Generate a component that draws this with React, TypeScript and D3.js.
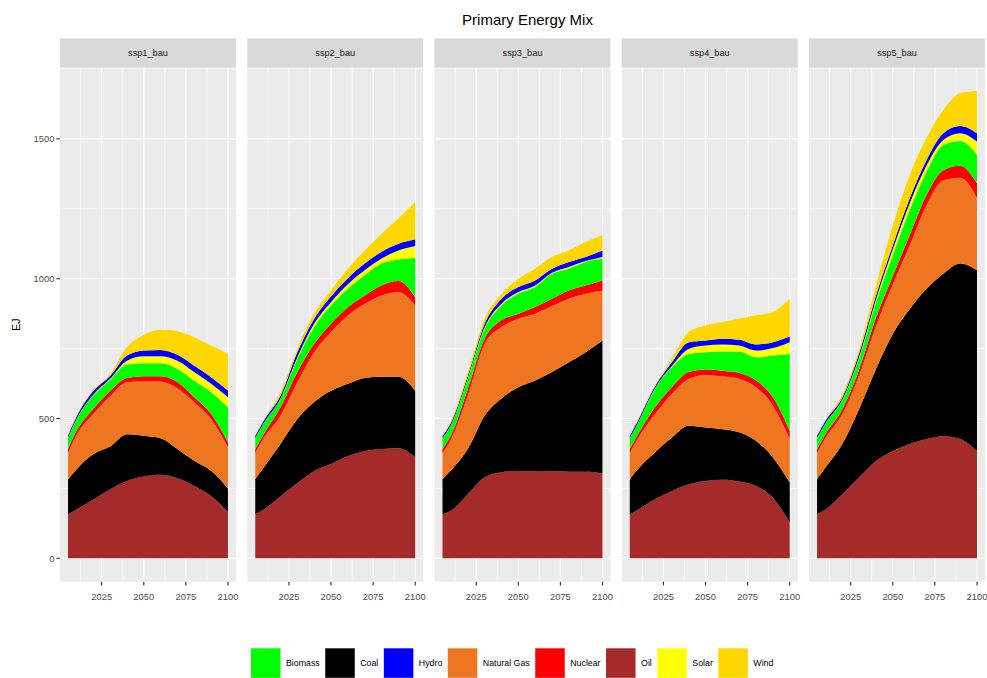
import { useEffect, useRef } from 'react';
import * as d3 from 'd3';

const years = [2005, 2010, 2020, 2030, 2040, 2050, 2060, 2070, 2080, 2090, 2100];
const scenarios = ['ssp1_bau', 'ssp2_bau', 'ssp3_bau', 'ssp4_bau', 'ssp5_bau'];
// bottom to top, as stacked in the panels
const stackOrder = ['Oil', 'Coal', 'Natural Gas', 'Nuclear', 'Biomass', 'Solar', 'Hydro', 'Wind'];
const legendOrder = ['Biomass', 'Coal', 'Hydro', 'Natural Gas', 'Nuclear', 'Oil', 'Solar', 'Wind'];
const fuelColors: Record<string, string> = {
  Biomass: '#00FF00',
  Coal: '#000000',
  Hydro: '#0000FF',
  'Natural Gas': '#EE7621',
  Nuclear: '#FF0000',
  Oil: '#A52A2A',
  Solar: '#FFFF00',
  Wind: '#FFD700',
};

// EJ, one row per scenario (ssp1..ssp5), one value per year
const oil = [
  [158, 175, 210, 247, 277, 293, 299, 286, 259, 223, 166],
  [158, 175, 222, 269, 312, 337, 366, 384, 391, 394, 362],
  [158, 170, 229, 290, 308, 312, 312, 312, 310, 310, 305],
  [158, 175, 211, 241, 265, 277, 281, 275, 259, 217, 128],
  [158, 175, 229, 290, 348, 384, 409, 427, 437, 427, 384],
];
const coal = [
  [125, 143, 163, 153, 167, 145, 130, 105, 90, 90, 84],
  [125, 150, 187, 229, 247, 262, 258, 261, 258, 255, 237],
  [125, 145, 162, 220, 264, 300, 324, 354, 391, 427, 474],
  [125, 145, 168, 191, 209, 191, 181, 176, 161, 144, 143],
  [125, 150, 180, 244, 329, 419, 483, 537, 581, 627, 646],
];
const gas = [
  [93, 122, 143, 180, 186, 195, 203, 217, 209, 185, 147],
  [93, 105, 101, 132, 178, 210, 244, 265, 291, 303, 305],
  [93, 110, 191, 257, 255, 245, 239, 236, 227, 209, 179],
  [93, 110, 137, 156, 168, 188, 189, 191, 192, 185, 156],
  [93, 105, 107, 121, 153, 177, 227, 299, 334, 307, 259],
];
const nuclear = [
  [15, 15, 18, 18, 15, 18, 19, 22, 18, 18, 18],
  [15, 14, 30, 36, 30, 30, 30, 30, 36, 40, 30],
  [15, 15, 24, 18, 24, 18, 24, 26, 30, 30, 36],
  [15, 15, 24, 24, 24, 19, 20, 21, 24, 30, 29],
  [15, 14, 16, 20, 30, 30, 36, 36, 36, 43, 52],
];
const biomass = [
  [38, 40, 48, 40, 48, 47, 47, 47, 59, 78, 125],
  [38, 38, 30, 47, 60, 65, 66, 72, 78, 77, 140],
  [38, 36, 36, 36, 53, 71, 71, 90, 78, 84, 78],
  [38, 40, 66, 71, 65, 62, 69, 77, 83, 149, 275],
  [38, 38, 33, 40, 55, 75, 90, 83, 90, 88, 101],
];
const solar = [
  [1, 2, 3, 4, 14, 25, 25, 30, 31, 30, 36],
  [1, 1, 2, 6, 12, 12, 16, 18, 18, 32, 43],
  [1, 1, 3, 5, 6, 6, 6, 3, 6, 3, 6],
  [1, 1, 2, 5, 18, 24, 25, 21, 24, 27, 42],
  [1, 1, 2, 5, 10, 20, 24, 22, 18, 28, 48],
];
const hydro = [
  [8, 9, 13, 10, 18, 20, 22, 21, 23, 24, 24],
  [8, 9, 10, 18, 18, 21, 22, 24, 24, 24, 24],
  [8, 8, 8, 13, 18, 18, 18, 15, 18, 15, 23],
  [8, 9, 7, 13, 24, 18, 20, 21, 22, 21, 20],
  [8, 9, 8, 13, 15, 15, 18, 20, 24, 26, 30],
];
const wind = [
  [2, 3, 4, 6, 30, 56, 72, 84, 102, 113, 131],
  [2, 3, 12, 12, 18, 21, 34, 47, 65, 90, 134],
  [2, 3, 13, 18, 17, 30, 42, 42, 41, 53, 54],
  [2, 3, 5, 12, 36, 54, 60, 75, 104, 108, 135],
  [2, 3, 10, 15, 35, 70, 83, 78, 83, 117, 151],
];

const yTicks = [0, 500, 1000, 1500];
const yMinor = [250, 750, 1250, 1750];
const xTicks = [2025, 2050, 2075, 2100];
const xMinor = [2012.5, 2037.5, 2062.5, 2087.5];

const seriesByFuel: Record<string, number[][]> = {
  Oil: oil,
  Coal: coal,
  'Natural Gas': gas,
  Nuclear: nuclear,
  Biomass: biomass,
  Solar: solar,
  Hydro: hydro,
  Wind: wind,
};

type Row = { year: number } & Record<string, number>;

const W = 987;
const H = 678;
const FONT = '"Liberation Sans", Arial, sans-serif';

export default function App() {
  const ref = useRef<SVGSVGElement>(null);

  useEffect(() => {
    document.body.style.margin = '0';
    if (!ref.current) return;
    const svg = d3.select(ref.current);
    svg.selectAll('*').remove();

    const plotLeft = 60;
    const plotRight = 985;
    const gap = 11.3;
    const panelW = (plotRight - plotLeft - gap * (scenarios.length - 1)) / scenarios.length;
    const stripTop = 38.3;
    const panelTop = 67.7;
    const panelBottom = 581.7;

    const tables: Row[][] = scenarios.map((_, si) =>
      years.map((yr, yi) => {
        const row: Row = { year: yr } as Row;
        stackOrder.forEach((f) => (row[f] = seriesByFuel[f][si][yi]));
        return row;
      })
    );
    const stack = d3.stack<Row>().keys(stackOrder);
    const stacked = tables.map((t) => stack(t));

    const yMax = d3.max(stacked, (s) => d3.max(s[s.length - 1], (d) => d[1])) as number;
    const yPad = yMax * 0.05;
    const y = d3.scaleLinear().domain([-yPad, yMax + yPad]).range([panelBottom, panelTop]);
    const xPad = (years[years.length - 1] - years[0]) * 0.05;

    svg.append('rect').attr('width', W).attr('height', H).attr('fill', '#FFFFFF');

    svg
      .append('text')
      .attr('x', 527.5)
      .attr('y', 24.5)
      .attr('text-anchor', 'middle')
      .attr('font-family', FONT)
      .attr('font-size', 15)
      .attr('fill', '#000000')
      .text('Primary Energy Mix');

    scenarios.forEach((name, si) => {
      const left = plotLeft + si * (panelW + gap);
      const x = d3
        .scaleLinear()
        .domain([years[0] - xPad, years[years.length - 1] + xPad])
        .range([left, left + panelW]);
      const g = svg.append('g');

      // strip
      g.append('rect')
        .attr('x', left)
        .attr('y', stripTop)
        .attr('width', panelW)
        .attr('height', panelTop - stripTop)
        .attr('fill', '#D9D9D9');
      g.append('text')
        .attr('x', left + panelW / 2)
        .attr('y', (stripTop + panelTop) / 2 + 3.3)
        .attr('text-anchor', 'middle')
        .attr('font-family', FONT)
        .attr('font-size', 9.2)
        .attr('fill', '#1A1A1A')
        .text(name);

      // panel background + grid
      g.append('rect')
        .attr('x', left)
        .attr('y', panelTop)
        .attr('width', panelW)
        .attr('height', panelBottom - panelTop)
        .attr('fill', '#EBEBEB');
      yMinor.forEach((v) => {
        if (y(v) < panelTop) return;
        g.append('line').attr('x1', left).attr('x2', left + panelW).attr('y1', y(v)).attr('y2', y(v))
          .attr('stroke', '#FFFFFF').attr('stroke-width', 0.55);
      });
      xMinor.forEach((v) => {
        g.append('line').attr('x1', x(v)).attr('x2', x(v)).attr('y1', panelTop).attr('y2', panelBottom)
          .attr('stroke', '#FFFFFF').attr('stroke-width', 0.55);
      });
      yTicks.forEach((v) => {
        g.append('line').attr('x1', left).attr('x2', left + panelW).attr('y1', y(v)).attr('y2', y(v))
          .attr('stroke', '#FFFFFF').attr('stroke-width', 1.1);
      });
      xTicks.forEach((v) => {
        g.append('line').attr('x1', x(v)).attr('x2', x(v)).attr('y1', panelTop).attr('y2', panelBottom)
          .attr('stroke', '#FFFFFF').attr('stroke-width', 1.1);
      });

      // stacked areas
      const area = d3
        .area<d3.SeriesPoint<Row>>()
        .x((d) => x(d.data.year))
        .y0((d) => y(d[0]))
        .y1((d) => y(d[1]))
        .curve(d3.curveMonotoneX);
      g.selectAll('path.band')
        .data(stacked[si])
        .join('path')
        .attr('class', 'band')
        .attr('fill', (s) => fuelColors[s.key])
        .attr('d', (s) => area(s) as string);

      // x axis
      xTicks.forEach((v) => {
        g.append('line').attr('x1', x(v)).attr('x2', x(v)).attr('y1', panelBottom).attr('y2', panelBottom + 3.7)
          .attr('stroke', '#333333').attr('stroke-width', 1.1);
        g.append('text')
          .attr('x', x(v))
          .attr('y', 600.3)
          .attr('text-anchor', 'middle')
          .attr('font-family', FONT)
          .attr('font-size', 9.4)
          .attr('fill', '#4D4D4D')
          .text(String(v));
      });

      // y axis on first panel only
      if (si === 0) {
        yTicks.forEach((v) => {
          g.append('line').attr('x1', left - 3.7).attr('x2', left).attr('y1', y(v)).attr('y2', y(v))
            .attr('stroke', '#333333').attr('stroke-width', 1.1);
          g.append('text')
            .attr('x', left - 5.6)
            .attr('y', y(v) + 3.3)
            .attr('text-anchor', 'end')
            .attr('font-family', FONT)
            .attr('font-size', 9.4)
            .attr('fill', '#4D4D4D')
            .text(String(v));
        });
      }
    });

    svg
      .append('text')
      .attr('transform', `translate(19.5,${(panelTop + panelBottom) / 2}) rotate(-90)`)
      .attr('text-anchor', 'middle')
      .attr('font-family', FONT)
      .attr('font-size', 10.5)
      .attr('fill', '#000000')
      .text('EJ');

    // legend
    const keySize = 29.5;
    const legendTop = 648.3;
    const lg = svg.append('g');
    let cx = 251;
    legendOrder.forEach((f) => {
      lg.append('rect')
        .attr('x', cx)
        .attr('y', legendTop)
        .attr('width', keySize)
        .attr('height', keySize)
        .attr('fill', fuelColors[f]);
      const t = lg
        .append('text')
        .attr('x', cx + keySize + 5.5)
        .attr('y', legendTop + keySize / 2 + 3.2)
        .attr('font-family', FONT)
        .attr('font-size', 8.8)
        .attr('fill', '#000000')
        .text(f);
      const tw = (t.node() as SVGTextElement).getComputedTextLength();
      cx += keySize + 5.5 + tw + 5.5;
    });
  }, []);

  return <svg ref={ref} width={W} height={H} style={{ display: 'block' }} />;
}
